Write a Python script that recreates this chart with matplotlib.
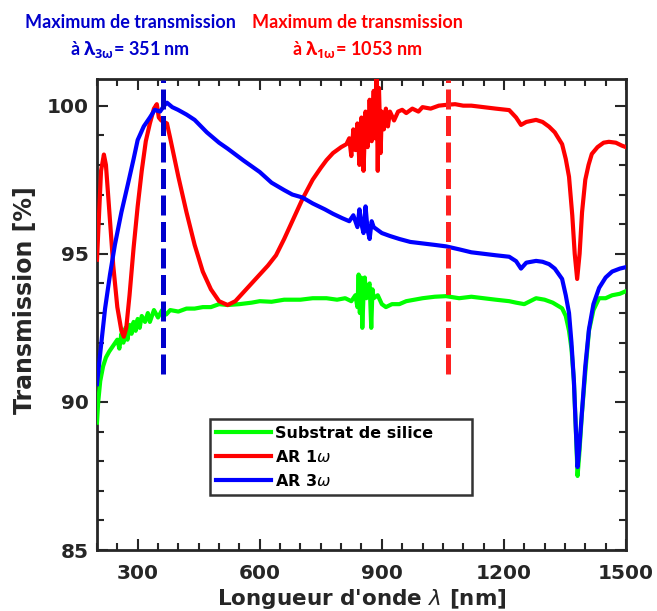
import matplotlib
matplotlib.use("Agg")
import matplotlib.pyplot as plt
import numpy as np

# --- données ---
wl_substrat = [200, 203, 208, 215, 222, 230, 240, 250, 255, 260, 265, 270, 275, 280, 285, 290, 295,
               300, 305, 310, 318, 325, 330, 340, 350, 360, 370, 380, 400, 420, 440, 460, 480, 500,
               521, 550, 580, 600, 629, 660, 700, 730, 764, 790, 810, 825, 835, 840, 843, 846, 849,
               852, 855, 858, 862, 866, 870, 874, 877, 880, 890, 900, 910, 925, 943, 960, 980, 1000,
               1030, 1058, 1090, 1120, 1150, 1180, 1213, 1230, 1250, 1279, 1300, 1320, 1343, 1352,
               1360, 1366, 1372, 1377, 1381, 1385, 1392, 1400, 1409, 1420, 1434, 1450, 1466, 1485, 1500]
t_substrat = [89.3, 90.0, 90.7, 91.2, 91.5, 91.7, 91.9, 92.1, 91.8, 92.3, 92.0, 92.5, 92.1, 92.6, 92.3,
              92.7, 92.4, 92.8, 92.5, 92.9, 92.7, 93.0, 92.7, 93.1, 92.85, 93.1, 92.95, 93.1, 93.05,
              93.15, 93.15, 93.2, 93.2, 93.3, 93.27, 93.3, 93.35, 93.4, 93.38, 93.45, 93.45, 93.5,
              93.5, 93.45, 93.5, 93.4, 93.6, 93.2, 94.3, 93.0, 94.2, 92.5, 93.6, 94.2, 93.5, 93.9,
              94.0, 92.5, 93.8, 93.5, 93.6, 93.3, 93.2, 93.3, 93.3, 93.4, 93.45, 93.5, 93.55, 93.57,
              93.5, 93.55, 93.5, 93.45, 93.4, 93.35, 93.3, 93.5, 93.45, 93.35, 93.16, 92.9, 92.4,
              91.8, 90.7, 89.0, 87.5, 88.2, 89.66, 91.0, 92.4, 93.1, 93.5, 93.5, 93.6, 93.65, 93.74]

wl_ar1 = [200, 205, 210, 217, 222, 230, 240, 250, 260, 266, 272, 280, 290, 300, 310, 320, 330, 340,
          347, 352, 358, 365, 372, 380, 400, 420, 440, 460, 480, 500, 521, 540, 560, 580, 600, 620,
          640, 660, 680, 705, 730, 750, 764, 780, 800, 813, 820, 825, 830, 835, 840, 845, 850, 855,
          860, 865, 870, 875, 880, 883, 887, 890, 893, 897, 900, 905, 910, 915, 920, 930, 940, 950,
          960, 975, 990, 1000, 1020, 1040, 1060, 1080, 1100, 1120, 1150, 1180, 1213, 1230, 1242,
          1255, 1279, 1295, 1311, 1325, 1343, 1352, 1360, 1368, 1374, 1380, 1386, 1392, 1400, 1408,
          1416, 1430, 1445, 1458, 1475, 1490, 1500]
t_ar1 = [94.8, 96.3, 97.8, 98.35, 98.0, 96.5, 94.6, 93.2, 92.4, 92.2, 92.5, 93.6, 95.2, 96.6, 97.8,
         98.8, 99.4, 99.9, 100.05, 99.6, 99.5, 99.45, 99.4, 98.9, 97.6, 96.4, 95.3, 94.4, 93.8, 93.4,
         93.27, 93.4, 93.7, 94.0, 94.3, 94.6, 94.95, 95.5, 96.1, 96.85, 97.5, 97.9, 98.16, 98.4, 98.6,
         98.7, 98.9, 98.3, 99.2, 98.5, 99.4, 98.0, 99.6, 97.8, 99.8, 98.6, 100.2, 98.8, 100.5, 98.9,
         100.9, 97.8, 100.6, 98.4, 99.8, 99.2, 99.9, 99.3, 99.8, 99.5, 99.8, 99.86, 99.75, 99.9, 99.8,
         99.95, 99.9, 100.0, 100.03, 100.05, 100.0, 100.0, 99.95, 99.9, 99.85, 99.6, 99.35, 99.45,
         99.52, 99.45, 99.29, 99.1, 98.7, 98.2, 97.6, 96.3, 95.0, 94.15, 95.0, 96.4, 97.5, 98.0,
         98.37, 98.6, 98.75, 98.78, 98.75, 98.65, 98.6]

wl_ar3 = [200, 210, 220, 232, 244, 260, 276, 290, 300, 315, 330, 342, 355, 365, 372, 385, 399, 420,
          440, 470, 500, 521, 560, 600, 629, 660, 680, 705, 730, 760, 780, 803, 820, 830, 840, 845,
          850, 855, 860, 865, 870, 875, 880, 890, 900, 920, 943, 970, 1000, 1030, 1058, 1090, 1120,
          1150, 1180, 1213, 1230, 1242, 1255, 1279, 1295, 1311, 1325, 1343, 1352, 1360, 1366, 1372,
          1377, 1381, 1385, 1392, 1400, 1409, 1420, 1434, 1450, 1466, 1485, 1500]
t_ar3 = [90.6, 91.9, 93.16, 94.3, 95.3, 96.4, 97.35, 98.2, 98.84, 99.3, 99.6, 99.86, 99.8, 100.0,
         100.1, 99.95, 99.86, 99.7, 99.52, 99.1, 98.75, 98.55, 98.15, 97.76, 97.4, 97.15, 97.0, 96.9,
         96.7, 96.5, 96.35, 96.2, 96.1, 96.3, 95.9, 96.5, 96.0, 95.7, 96.6, 95.8, 95.5, 96.1, 95.9,
         95.8, 95.7, 95.6, 95.5, 95.4, 95.35, 95.3, 95.25, 95.15, 95.05, 95.0, 94.95, 94.9, 94.75,
         94.5, 94.7, 94.76, 94.73, 94.65, 94.5, 94.15, 93.6, 93.0, 92.0, 90.7, 89.0, 87.8, 88.4,
         89.7, 91.2, 92.45, 93.3, 93.85, 94.2, 94.4, 94.5, 94.55]

# positions des maxima (traits pointillés) et leurs annotations
lambda_3w = 362
lambda_1w = 1062
dash_range = [90.95, 100.85]
titre_3w = ["Maximum de transmission", "à $\\mathbf{λ_{3ω}}$= 351 nm"]
titre_1w = ["Maximum de transmission", "à $\\mathbf{λ_{1ω}}$= 1053 nm"]

plt.rcParams["mathtext.fontset"] = "custom"
plt.rcParams["mathtext.rm"] = "Open Sans"
plt.rcParams["mathtext.bf"] = "Open Sans:bold"
plt.rcParams["mathtext.it"] = "Open Sans:italic"

fig = plt.figure(figsize=(6.57, 6.11), dpi=100)
ax = fig.add_axes([0.1476, 0.0998, 0.8052, 0.7709])

gris = "#262626"
ax.plot(wl_substrat, t_substrat, color="#00ff00", lw=3.0, label="Substrat de silice", zorder=3)
ax.plot(wl_ar1, t_ar1, color="#ff0000", lw=3.0, label="AR 1$\\omega$", zorder=4)
ax.plot(wl_ar3, t_ar3, color="#0000ff", lw=3.0, label="AR 3$\\omega$", zorder=4)

ax.plot([lambda_3w, lambda_3w], dash_range, color="#0000cc", lw=3.6, dashes=(4, 1.3), zorder=5)
ax.plot([lambda_1w, lambda_1w], dash_range, color="#ff2020", lw=3.6, dashes=(4, 1.3), zorder=5)

ax.set_xlim(200, 1500)
ax.set_ylim(85, 100.9)
ax.set_xticks([300, 600, 900, 1200, 1500])
ax.set_yticks([85, 90, 95, 100])
ax.set_xticks(np.arange(200, 1501, 50), minor=True)
ax.set_yticks(np.arange(85, 101, 1), minor=True)
ax.tick_params(which="both", direction="in", top=True, right=True, color=gris, width=1.5,
               labelsize=14.5, labelcolor=gris)
ax.tick_params(which="major", length=8)
ax.tick_params(which="minor", length=5)
ax.tick_params(axis="x", pad=10)
ax.tick_params(axis="y", pad=6)
for lab in ax.get_xticklabels() + ax.get_yticklabels():
    lab.set_fontweight("bold")
for sp in ax.spines.values():
    sp.set_linewidth(2)
    sp.set_color(gris)

ax.set_xlabel("Longueur d'onde $\\lambda$ [nm]", fontsize=15.5, fontweight="bold", color=gris,
              labelpad=3)
ax.xaxis.label.set_math_fontfamily("dejavusans")
fig.text(25 / 657, 1 - 300 / 611, "Transmission [%]", fontsize=17, fontweight="bold", color=gris,
         rotation=90, ha="center", va="center")

leg = ax.legend(loc="lower left", bbox_to_anchor=(0.2136, 0.1168, 0.4954, 0.1656), mode="expand",
                borderaxespad=0, fancybox=False, edgecolor="black", handlelength=3.4,
                handletextpad=0.3, labelspacing=0.5, borderpad=0.4,
                prop={"weight": "bold", "size": 11.5, "math_fontfamily": "dejavusans"})
leg.get_frame().set_linewidth(1.8)

for i, txt in enumerate(titre_3w):
    fig.text(130 / 657, 1 - (22 + 28 * i) / 611, txt, color="#0000cc", fontsize=13,
             fontweight="bold", family="Lato", ha="center", va="center")
for i, txt in enumerate(titre_1w):
    fig.text(357 / 657, 1 - (22 + 28 * i) / 611, txt, color="#ff0000", fontsize=13,
             fontweight="bold", family="Lato", ha="center", va="center")

fig.savefig("out.png", dpi=100)
